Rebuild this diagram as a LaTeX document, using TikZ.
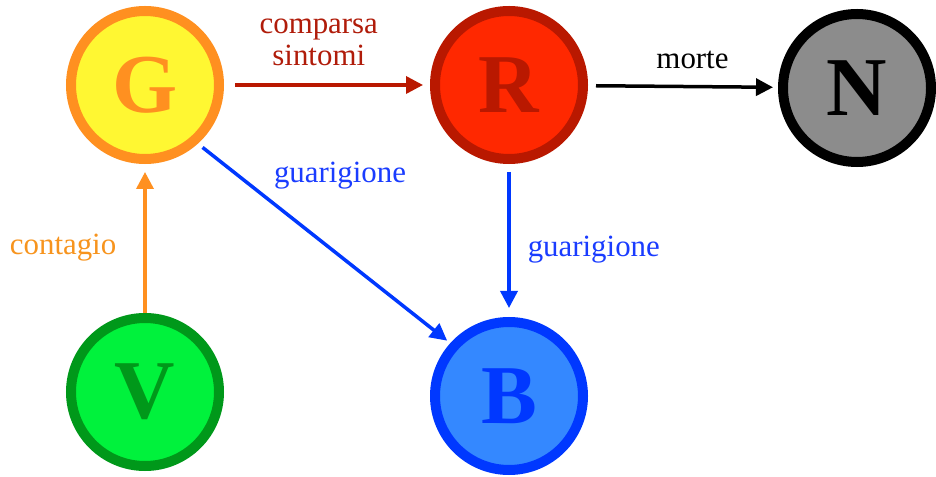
\documentclass[tikz,border=0pt]{standalone}
\usepackage{fontspec}
\setmainfont{Liberation Serif}
\usepackage{xcolor}
\usetikzlibrary{arrows.meta, positioning}

\definecolor{gfill}{RGB}{255,247,50}
\definecolor{gline}{RGB}{255,144,32}
\definecolor{rfill}{RGB}{255,40,0}
\definecolor{rline}{RGB}{185,24,0}
\definecolor{nfill}{RGB}{140,140,140}
\definecolor{vfill}{RGB}{0,242,60}
\definecolor{vline}{RGB}{0,152,26}
\definecolor{bfill}{RGB}{52,136,255}
\definecolor{bline}{RGB}{0,56,255}
\definecolor{redtxt}{RGB}{176,28,10}
\definecolor{bluetxt}{RGB}{26,60,255}
\definecolor{orangetxt}{RGB}{247,148,30}

\begin{document}
\begin{tikzpicture}[
        x=1bp, y=-1bp,
        compartment/.style={circle, line width=10bp, minimum size=148bp, inner sep=0pt, font=\rmfamily\fontsize{84}{84}\selectfont\bfseries},
        rate/.style={font=\rmfamily\fontsize{31}{33}\selectfont, align=center, inner sep=0pt},
        arrow/.style={-{Triangle[length=17bp, width=17bp]}, line width=3.5bp}
    ]
        \useasboundingbox (0,0) rectangle (936,477);

        \node[compartment, draw=gline, fill=gfill, text=gline] (G) at (145,85) {G};
        \node[compartment, draw=rline, fill=rfill, text=rline] (R) at (509,85) {R};
        \node[compartment, draw=black, fill=nfill, text=black] (N) at (857,88) {N};
        \node[compartment, draw=vline, fill=vfill, text=vline] (V) at (145,392) {V};
        \node[compartment, draw=bline, fill=bfill, text=bline] (B) at (509,396) {B};

        \draw[arrow, rline, shorten <=11bp, shorten >=7bp] (G) -- node[rate, above=17bp, pos=0.46, text=redtxt]{comparsa\\sintomi} (R);
        \draw[arrow, black, shorten <=8bp, shorten >=5bp] (R) -- node[rate, above=16bp, pos=0.55]{morte} (N);
        \draw[arrow, gline, shorten >=8bp] (V) -- node[rate, left=27bp, pos=0.44, text=orangetxt]{contagio} (G);
        \draw[arrow, bline, shorten <=6bp, shorten >=4bp] (G.-48) -- node[rate, right=34bp, pos=0.16, text=bluetxt]{guarigione} (B.138);
        \draw[arrow, bline, shorten <=8bp, shorten >=9bp] (R) -- node[rate, right=17bp, pos=0.56, text=bluetxt]{guarigione} (B);
    \end{tikzpicture}
\end{document}
